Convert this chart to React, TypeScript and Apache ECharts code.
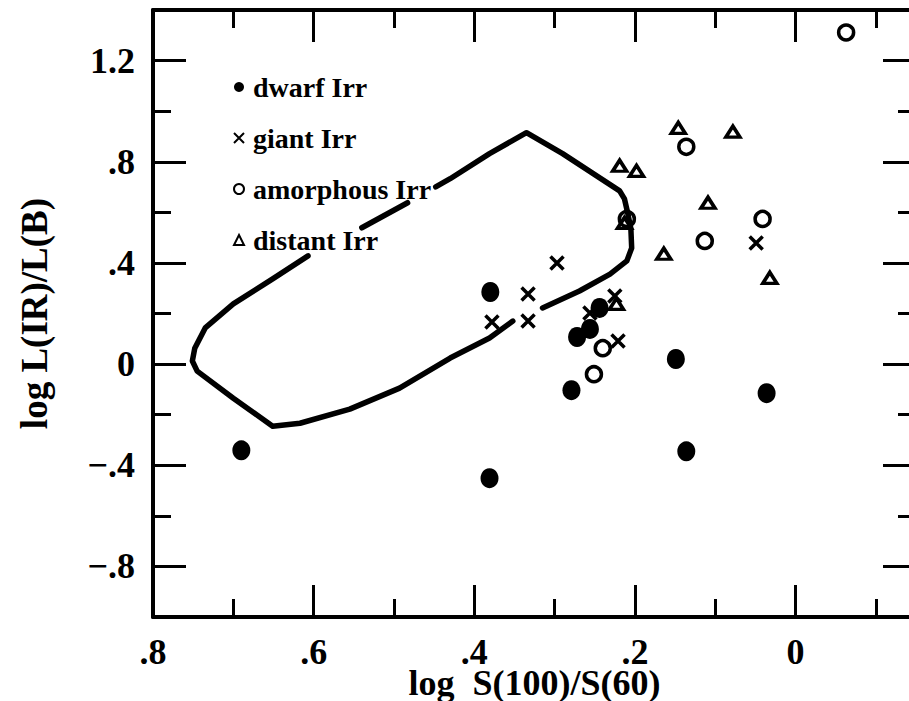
import React, { useEffect, useRef } from "react";
import * as echarts from "echarts";

// ---- data ----
const dwarfIrr: number[][] = [
  [0.69, -0.341], [0.381, -0.451], [0.38, 0.285], [0.279, -0.103],
  [0.272, 0.107], [0.256, 0.139], [0.244, 0.222], [0.149, 0.02],
  [0.136, -0.345], [0.036, -0.115],
];
const giantIrr: number[][] = [
  [0.297, 0.4], [0.333, 0.277], [0.378, 0.166], [0.333, 0.17],
  [0.225, 0.269], [0.256, 0.202], [0.221, 0.091], [0.049, 0.479],
];
const amorphousIrr: number[][] = [
  [-0.063, 1.311], [0.136, 0.859], [0.21, 0.574], [0.113, 0.487],
  [0.041, 0.574], [0.24, 0.063], [0.251, -0.04],
];
const distantIrr: number[][] = [
  [0.146, 0.934], [0.078, 0.919], [0.219, 0.784], [0.198, 0.764],
  [0.109, 0.638], [0.213, 0.558], [0.164, 0.436], [0.032, 0.341],
  [0.223, 0.238],
];
// outline curve, in three visible pieces
const curveA: number[][] = [
  [0.448, 0.701], [0.43, 0.733], [0.381, 0.832], [0.335, 0.915], [0.29, 0.832],
  [0.219, 0.685], [0.213, 0.653], [0.209, 0.598], [0.205, 0.535], [0.204, 0.459],
  [0.21, 0.408], [0.231, 0.356], [0.269, 0.289], [0.315, 0.222],
];
const curveB: number[][] = [
  [0.352, 0.17], [0.381, 0.103], [0.43, 0.024], [0.493, -0.095], [0.555, -0.178],
  [0.617, -0.234], [0.651, -0.246], [0.7, -0.135], [0.745, -0.028], [0.751, 0.012],
  [0.748, 0.063], [0.735, 0.143], [0.7, 0.238], [0.651, 0.337], [0.607, 0.428],
];
const curveC: number[][] = [[0.54, 0.539], [0.483, 0.638]];

const xMajorTicks = [0, 0.2, 0.4, 0.6, 0.8];
const xMinorTicks = [-0.1, 0.1, 0.3, 0.5, 0.7];
const yMajorTicks = [-0.8, -0.4, 0, 0.4, 0.8, 1.2];
const yMinorTicks = [-0.6, -0.2, 0.2, 0.6, 1.0];
const seriesNames = ["dwarf Irr", "giant Irr", "amorphous Irr", "distant Irr"];
const xTitle = "log  S(100)/S(60)";
const yTitle = "log L(IR)/L(B)";

const FONT = "'Liberation Serif', 'DejaVu Serif', serif";
const CROSS = "path://M0,0L10,10M10,0L0,10";

const fmt = (v: number) => {
  if (Math.abs(v) < 1e-9) return "0";
  const s = Math.abs(v).toFixed(1).replace(/^0/, "");
  return (v < 0 ? "\u2212" : "") + s;
};

export default function App() {
  const ref = useRef<HTMLDivElement>(null);
  useEffect(() => {
    if (!ref.current) return;
    const chart = echarts.init(ref.current, undefined, { renderer: "svg" });
    const X = { min: -0.15, max: 0.8, inverse: true };
    const Y = { min: -1.0, max: 1.4 };
    const line = { show: true, onZero: false, lineStyle: { color: "#000", width: 4 } };
    const noLine = { show: false, onZero: false };
    const tick = (vals: number[], len: number) => ({
      show: true, inside: true, length: len, customValues: vals,
      lineStyle: { color: "#000", width: 3 },
    });
    const labelStyle = {
      fontFamily: FONT, fontWeight: "bold" as const, fontSize: 36, color: "#000",
    };
    const lineSeries = (d: number[][]) => ({
      type: "line", data: d, showSymbol: false, silent: true, z: 1,
      xAxisIndex: 0, yAxisIndex: 0,
      lineStyle: { color: "#000", width: 5.5, cap: "round", join: "round" },
    });
    chart.setOption({
      animation: false,
      backgroundColor: "#fff",
      grid: {
        left: 153, right: -7, top: 10, bottom: 84,
        containLabel: false, outerBoundsMode: "none",
      },
      xAxis: [
        {
          type: "value", position: "bottom", ...X,
          axisLine: line, axisTick: tick(xMajorTicks, 32), splitLine: { show: false },
          axisLabel: {
            ...labelStyle, lineHeight: 28, customValues: xMajorTicks, formatter: fmt, margin: 21,
          },
          name: xTitle, nameLocation: "middle", nameGap: 52, nameMoveOverlap: false,
          nameTextStyle: { ...labelStyle, fontSize: 36, lineHeight: 28 },
        },
        {
          type: "value", position: "bottom", ...X, axisLine: noLine,
          axisTick: tick(xMinorTicks, 18), axisLabel: { show: false }, splitLine: { show: false },
        },
        {
          type: "value", position: "top", ...X, axisLine: line,
          axisTick: tick(xMajorTicks, 32), axisLabel: { show: false }, splitLine: { show: false },
        },
        {
          type: "value", position: "top", ...X, axisLine: noLine,
          axisTick: tick(xMinorTicks, 18), axisLabel: { show: false }, splitLine: { show: false },
        },
      ],
      yAxis: [
        {
          type: "value", position: "left", ...Y,
          axisLine: line, axisTick: tick(yMajorTicks, 33), splitLine: { show: false },
          axisLabel: { ...labelStyle, customValues: yMajorTicks, formatter: fmt, margin: 18 },
          name: yTitle, nameLocation: "middle", nameGap: 100, nameMoveOverlap: false,
          nameTextStyle: { ...labelStyle, fontSize: 37 },
        },
        {
          type: "value", position: "left", ...Y, axisLine: noLine,
          axisTick: tick(yMinorTicks, 18), axisLabel: { show: false }, splitLine: { show: false },
        },
        {
          type: "value", position: "right", ...Y, axisLine: line,
          axisTick: tick(yMajorTicks, 33), axisLabel: { show: false }, splitLine: { show: false },
        },
        {
          type: "value", position: "right", ...Y, axisLine: noLine,
          axisTick: tick(yMinorTicks, 18), axisLabel: { show: false }, splitLine: { show: false },
        },
      ],
      legend: {
        orient: "vertical", left: 228, top: 68, itemWidth: 10, itemHeight: 10, itemGap: 23,
        selectedMode: false,
        textStyle: {
          fontFamily: FONT, fontWeight: "bold", fontSize: 28, color: "#000",
          lineHeight: 28, padding: [0, 0, 0, 4],
        },
        data: [
          { name: seriesNames[0], icon: "circle", itemStyle: { color: "#000", borderWidth: 0 } },
          { name: seriesNames[1], icon: CROSS, itemStyle: { color: "#000", borderColor: "#000", borderWidth: 2 } },
          { name: seriesNames[2], icon: "circle", itemStyle: { color: "rgba(0,0,0,0)", borderColor: "#000", borderWidth: 2 } },
          { name: seriesNames[3], icon: "triangle", itemStyle: { color: "rgba(0,0,0,0)", borderColor: "#000", borderWidth: 2 } },
        ],
      },
      series: [
        lineSeries(curveA),
        lineSeries(curveB),
        lineSeries(curveC),
        {
          name: seriesNames[0], type: "scatter", data: dwarfIrr, symbol: "circle",
          symbolSize: [18, 20], itemStyle: { color: "#000", opacity: 1 }, z: 3,
        },
        {
          name: seriesNames[1], type: "scatter", data: giantIrr, symbol: CROSS, symbolSize: 13,
          itemStyle: { color: "#000", borderColor: "#000", borderWidth: 3.5, opacity: 1 }, z: 3,
        },
        {
          name: seriesNames[2], type: "scatter", data: amorphousIrr, symbol: "circle", symbolSize: 15,
          itemStyle: { color: "rgba(0,0,0,0)", borderColor: "#000", borderWidth: 3.5, opacity: 1 }, z: 3,
        },
        {
          name: seriesNames[3], type: "scatter", data: distantIrr, symbol: "triangle", symbolSize: [14, 11],
          itemStyle: { color: "rgba(0,0,0,0)", borderColor: "#000", borderWidth: 3.5, opacity: 1 }, z: 3,
        },
      ],
    });
    return () => chart.dispose();
  }, []);
  return (
    <div
      ref={ref}
      style={{ position: "fixed", left: 0, top: 0, width: 909, height: 701, background: "#fff" }}
    />
  );
}
